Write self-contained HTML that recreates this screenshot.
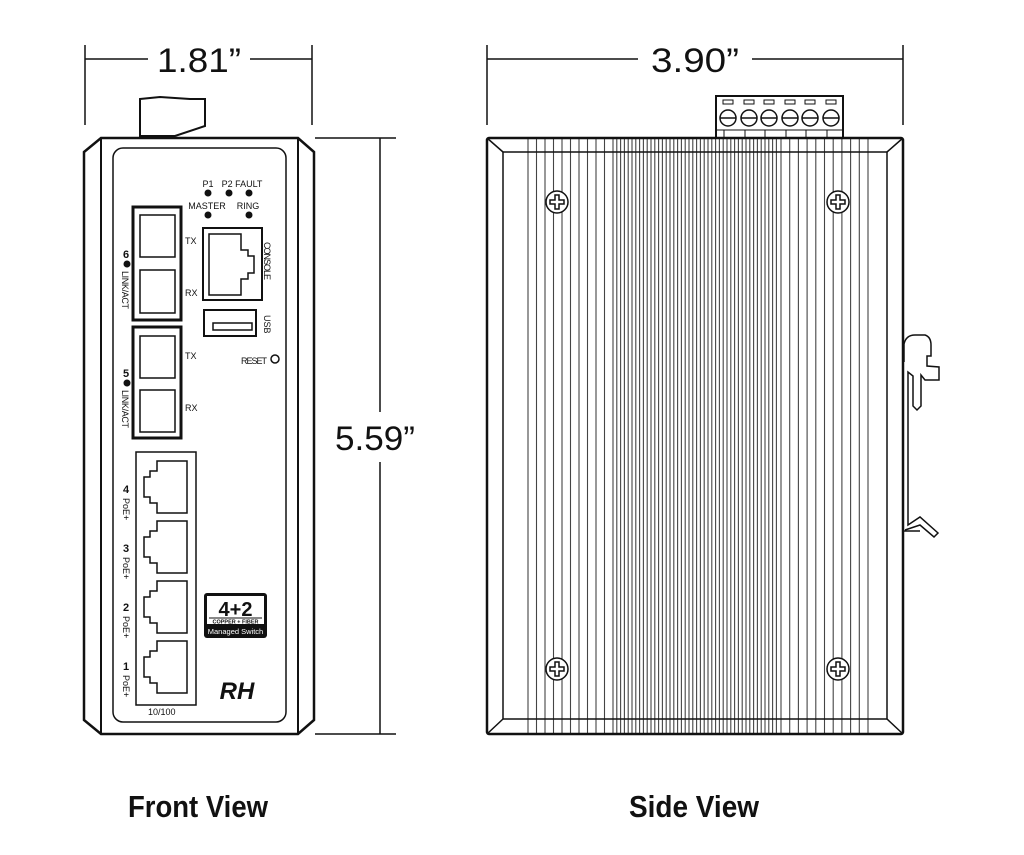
<!DOCTYPE html>
<html><head><meta charset="utf-8"><style>
html,body{margin:0;padding:0;background:#fff}
svg{display:block}
text{font-family:"Liberation Sans Narrow","Liberation Sans",sans-serif}
</style></head><body>
<svg id="s" width="1024" height="855" viewBox="0 0 1024 855" xmlns="http://www.w3.org/2000/svg">
<g stroke="#111" fill="none" stroke-width="1.5">
<line x1="85" y1="45" x2="85" y2="125"/><line x1="312" y1="45" x2="312" y2="125"/>
<line x1="85" y1="59" x2="148" y2="59"/><line x1="250" y1="59" x2="312" y2="59"/>
<line x1="487" y1="45" x2="487" y2="125"/><line x1="903" y1="45" x2="903" y2="125"/>
<line x1="487" y1="59" x2="638" y2="59"/><line x1="752" y1="59" x2="903" y2="59"/>
<line x1="315" y1="138" x2="396" y2="138"/><line x1="315" y1="734" x2="396" y2="734"/>
<line x1="380" y1="138" x2="380" y2="412"/><line x1="380" y1="462" x2="380" y2="734"/>

<path d="M140 99 L160 97 L190 99 L205 99 L205 126 L175 136 L140 136 Z" stroke-width="2"/>
<path d="M101 138 L298 138 L314 152 L314 720 L298 734 L101 734 L84 720 L84 152 Z" stroke-width="2.5"/>
<line x1="101" y1="138" x2="101" y2="734" stroke-width="2"/>
<line x1="298" y1="138" x2="298" y2="734" stroke-width="2"/>
<rect x="113" y="148" width="173" height="574" rx="10" stroke-width="1.5"/>
<rect x="133" y="207" width="48" height="113" stroke-width="3"/>
<rect x="140" y="215" width="35" height="42"/><rect x="140" y="270" width="35" height="43"/>
<rect x="133" y="327" width="48" height="111" stroke-width="3"/>
<rect x="140" y="336" width="35" height="42"/><rect x="140" y="390" width="35" height="42"/>
<rect x="203" y="228" width="59" height="72" stroke-width="2"/>
<path d="M209 234 L241 234 L241 250 L248 250 L248 256 L254 256 L254 273 L248 273 L248 279 L241 279 L241 295 L209 295 Z"/>
<rect x="204" y="310" width="52" height="26" stroke-width="2"/>
<rect x="213" y="323" width="39" height="7"/>
<circle cx="275" cy="359" r="4"/>
<rect x="136" y="452" width="60" height="253"/>
<g id="rj">
<path d="M157 461 L187 461 L187 513 L157 513 L157 503 L150 503 L150 497 L144 497 L144 477 L150 477 L150 471 L157 471 Z"/>
</g>
<use href="#rj" y="60"/><use href="#rj" y="120"/><use href="#rj" y="180"/>

<rect x="716" y="96" width="127" height="42" stroke-width="2"/>
<line x1="716" y1="130" x2="843" y2="130" stroke-width="1"/>
<g id="fins" stroke-width="1.1" stroke="#444"></g>
<rect x="487" y="138" width="416" height="596" stroke-width="2.5" rx="2"/>
<rect x="503" y="152" width="384" height="567" stroke-width="1.5"/>
<line x1="487" y1="138" x2="503" y2="152"/><line x1="903" y1="138" x2="887" y2="152"/>
<line x1="487" y1="734" x2="503" y2="719"/><line x1="903" y1="734" x2="887" y2="719"/>
<g id="scr"></g>
<g id="term"></g>
<path d="M904 362 L904 344 Q906 335 915 335 L925 335 Q931 337 931 345 L931 356 L927 356 L927 366 L939 367 L939 380 L925 380 L921 375 L921 406 L917 410 L913 406 L913 376 L908 372 L908 525 L920 517 L938 533 L934 537 L920 525 L905 530" stroke-width="1.5"/>
<line x1="903" y1="531" x2="920" y2="531"/>
</g>
<g fill="#111">
<circle cx="208" cy="193" r="3.5"/><circle cx="229" cy="193" r="3.5"/><circle cx="249" cy="193" r="3.5"/>
<circle cx="208" cy="215" r="3.5"/><circle cx="249" cy="215" r="3.5"/>
<circle cx="127" cy="264" r="3.5"/><circle cx="127" cy="383" r="3.5"/>
<rect x="204" y="593" width="63" height="45" rx="3"/>
</g>
<g fill="#111" font-size="9">
<text x="208" y="187" text-anchor="middle">P1</text>
<text x="242" y="187" text-anchor="middle">P2 FAULT</text>
<text x="207" y="209" text-anchor="middle">MASTER</text>
<text x="248" y="209" text-anchor="middle">RING</text>
<text x="185" y="244">TX</text><text x="185" y="296">RX</text>
<text x="185" y="359">TX</text><text x="185" y="411">RX</text>
<text x="241" y="364" textLength="26">RESET</text>
<text transform="translate(264,242) rotate(90)" textLength="38">CONSOLE</text>
<text transform="translate(264,315) rotate(90)">USB</text>
<text transform="translate(122,271) rotate(90)" textLength="38">LINK/ACT</text>
<text transform="translate(122,390) rotate(90)" textLength="38">LINK/ACT</text>
<text x="148" y="715">10/100</text>
<g font-size="11" font-weight="bold">
<text x="126" y="258" text-anchor="middle">6</text><text x="126" y="377" text-anchor="middle">5</text>
<text x="126" y="493" text-anchor="middle">4</text><text x="126" y="552" text-anchor="middle">3</text>
<text x="126" y="611" text-anchor="middle">2</text><text x="126" y="670" text-anchor="middle">1</text>
</g>
<text transform="translate(123,498) rotate(90)">PoE+</text>
<text transform="translate(123,557) rotate(90)">PoE+</text>
<text transform="translate(123,616) rotate(90)">PoE+</text>
<text transform="translate(123,675) rotate(90)">PoE+</text>
<text x="237" y="699" font-size="24" font-weight="bold" font-style="italic" text-anchor="middle">RH</text>
</g>
<rect x="207" y="596" width="57" height="28" fill="#fff"/>
<text x="235.5" y="616" font-size="20" font-weight="bold" text-anchor="middle" fill="#111" font-family="Liberation Sans">4+2</text>
<line x1="209" y1="618" x2="262" y2="618" stroke="#111"/>
<text x="235.5" y="623.5" font-size="5.5" font-weight="bold" text-anchor="middle" fill="#111">COPPER + FIBER</text>
<text x="235.5" y="634" font-size="7.5" text-anchor="middle" fill="#fff">Managed Switch</text>
<rect x="335" y="415" width="80" height="45" fill="#fff"/>
<g fill="#111" font-size="34" text-anchor="middle" font-family="Liberation Sans">
<text x="199" y="72" textLength="84" lengthAdjust="spacingAndGlyphs">1.81”</text>
<text x="695" y="72" textLength="88" lengthAdjust="spacingAndGlyphs">3.90”</text>
<text x="375" y="450" textLength="80" lengthAdjust="spacingAndGlyphs">5.59”</text>
</g>
<g fill="#111" font-size="31" font-weight="bold" text-anchor="middle">
<text x="198" y="817" textLength="140" lengthAdjust="spacingAndGlyphs">Front View</text>
<text x="694" y="817" textLength="130" lengthAdjust="spacingAndGlyphs">Side View</text>
</g>
</svg>
<script>
var ns="http://www.w3.org/2000/svg",f=document.getElementById("fins"),xs=[];
for(var x=528;x<613;x+=8.5)xs.push(x);
for(var x=613;x<778;x+=3.8)xs.push(x);
for(var x=781;x<=869;x+=8.7)xs.push(x);
xs.forEach(function(x){var l=document.createElementNS(ns,"line");l.setAttribute("x1",x);l.setAttribute("x2",x);l.setAttribute("y1",138);l.setAttribute("y2",734);f.appendChild(l);});
var s=document.getElementById("scr");
[[557,202],[838,202],[557,669],[838,669]].forEach(function(p){
var c=document.createElementNS(ns,"circle");c.setAttribute("cx",p[0]);c.setAttribute("cy",p[1]);c.setAttribute("r",11);c.setAttribute("fill","#fff");s.appendChild(c);
var q=document.createElementNS(ns,"path");var x=p[0],y=p[1];
q.setAttribute("d","M"+(x-2)+" "+(y-7)+"h4v5h5v4h-5v5h-4v-5h-5v-4h5z");q.setAttribute("fill","#fff");s.appendChild(q);});
var t=document.getElementById("term");
[728,749,769,790,810,831].forEach(function(x){
var c=document.createElementNS(ns,"circle");c.setAttribute("cx",x);c.setAttribute("cy",118);c.setAttribute("r",8);t.appendChild(c);
var l=document.createElementNS(ns,"line");l.setAttribute("x1",x-8);l.setAttribute("x2",x+8);l.setAttribute("y1",118);l.setAttribute("y2",118);t.appendChild(l);
var r=document.createElementNS(ns,"rect");r.setAttribute("x",x-5);r.setAttribute("y",100);r.setAttribute("width",10);r.setAttribute("height",4);r.setAttribute("stroke-width",1);t.appendChild(r);
var v=document.createElementNS(ns,"line");v.setAttribute("x1",x-4);v.setAttribute("x2",x-4);v.setAttribute("y1",130);v.setAttribute("y2",138);v.setAttribute("stroke-width",1);t.appendChild(v);
});
</script>
</body></html>
